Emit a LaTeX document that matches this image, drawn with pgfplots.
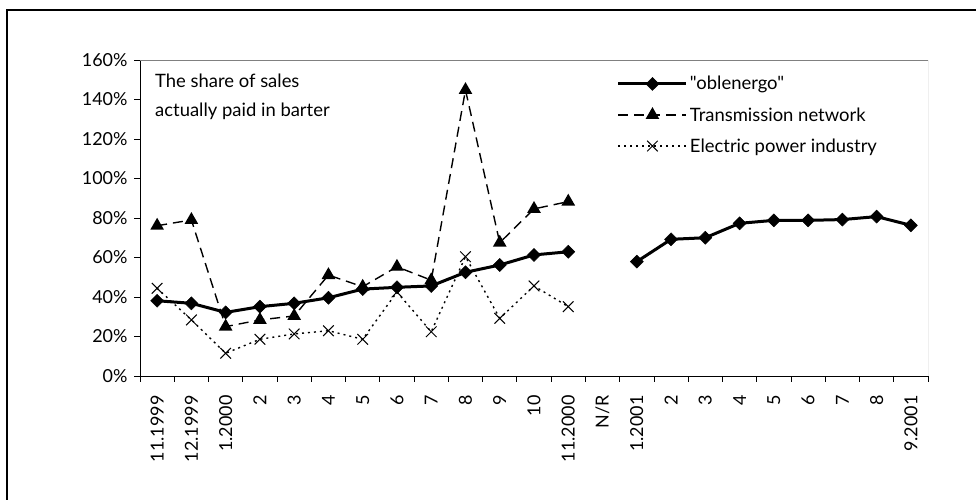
\documentclass[border=0pt]{standalone}
\usepackage{fontspec}
\setmainfont{Lato}
\newfontfamily\qfont{Lato}
\usepackage{pgfplots}
\pgfplotsset{compat=1.18}
\begin{document}
\begin{tikzpicture}[x=1bp,y=1bp]
\useasboundingbox (0,0) rectangle (976,500);
\draw[line width=1.2bp] (7,-5) -- (7,490) -- (985,490);
\begin{axis}[
  at={(140bp,124bp)}, anchor=south west,
  scale only axis, width=788bp, height=316bp,
  xmin=-0.5, xmax=22.5, ymin=0, ymax=160,
  axis x line*=bottom, axis y line*=left,
  axis line style={line width=0.8bp, black},
  tick align=outside,
  xtick={0,...,22},
  xticklabels={11.1999,12.1999,1.2000,2,3,4,5,6,7,8,9,10,11.2000,N/R,1.2001,2,3,4,5,6,7,8,9.2001},
  major x tick style={draw=none},
  minor xtick={-0.5,0.5,...,22.5},
  minor tick length=6bp,
  minor x tick style={black, line width=0.8bp},
  ytick={0,20,...,160},
  major tick length=6bp,
  major y tick style={black, line width=0.8bp},
  yticklabel={\pgfmathprintnumber{\tick}\%},
  /pgf/number format/assume math mode=true,
  y tick label style={font=\fontsize{18}{21}\selectfont, xshift=-3bp},
  x tick label style={font=\fontsize{18}{21}\selectfont, yshift=-10bp, rotate=90, anchor=east},
  unbounded coords=jump,
  reverse legend,
  legend style={at={(0.605,0.955)}, anchor=north west, draw=none, fill=none,
    font=\fontsize{18.5}{22}\selectfont, row sep=12bp, inner sep=0pt,
    nodes={inner sep=2bp, anchor=west}},
  legend cell align=left,
  legend image code/.code={\draw[mark repeat=2, mark phase=2, #1] plot coordinates {(0bp,0bp) (34bp,0bp) (68bp,0bp)};},
]
\addplot[black, line width=1.4bp, dash pattern=on 2bp off 4bp, mark=x, mark size=7.5bp, mark options={solid, line width=1bp}]
  coordinates {(0,44.4) (1,28.4) (2,11.5) (3,18.6) (4,21.3) (5,22.9) (6,18.6) (7,42.5) (8,22.4) (9,60.4) (10,29.2) (11,45.6) (12,35.1)};
\addlegendentry{Electric power industry}
\addplot[black, line width=1.4bp, dash pattern=on 10bp off 6bp, mark=triangle*, mark size=6.5bp, mark options={solid}]
  coordinates {(0,76.1) (1,79.0) (2,25.0) (3,28.4) (4,30.4) (5,51.1) (6,45.2) (7,55.3) (8,48.5) (9,144.8) (10,67.5) (11,84.6) (12,88.3)};
\addlegendentry{Transmission network}
\addplot[black, line width=3bp, mark=square*, mark size=4.6bp, mark options={rotate=45, line width=0.5bp}]
  coordinates {(0,38.1) (1,36.8) (2,32.2) (3,35.1) (4,36.8) (5,39.6) (6,44.0) (7,44.9) (8,45.6) (9,52.5) (10,56.2) (11,61.3) (12,62.9) (13,nan) (14,57.9) (15,69.2) (16,70.0) (17,77.3) (18,78.8) (19,78.8) (20,79.2) (21,80.7) (22,76.3)};
\addlegendentry{{\qfont"oblenergo"}}
\draw[gray, line width=0.8bp] (rel axis cs:0,1) -- (rel axis cs:1,1) -- (rel axis cs:1,0);
\node[anchor=north west, align=left, font=\fontsize{18.5}{30}\selectfont, inner sep=0pt] at (rel axis cs:0.019,0.958) {The share of sales\\actually paid in barter};
\end{axis}
\end{tikzpicture}
\end{document}
